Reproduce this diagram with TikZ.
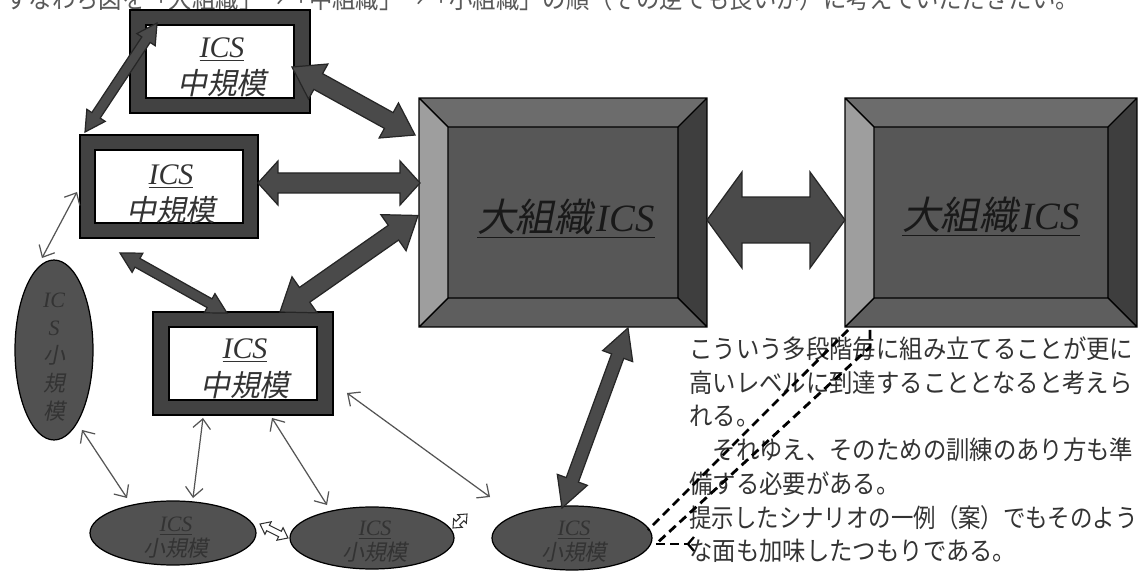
\documentclass[tikz,border=0pt]{standalone}
\usepackage{fontspec}
\setmainfont{Liberation Serif}
\newfontfamily\jp{Noto Sans CJK JP}
\newfontfamily\jpit[FakeSlant=0.2]{Noto Sans CJK JP}
\usetikzlibrary{calc,arrows.meta,shapes.geometric}
\definecolor{mgray}{HTML}{424242}
\definecolor{agray}{HTML}{4A4A4A}
\definecolor{face}{HTML}{575757}
\definecolor{btop}{HTML}{6C6C6C}
\definecolor{bleft}{HTML}{9E9E9E}
\definecolor{bright}{HTML}{3E3E3E}
\definecolor{bbot}{HTML}{5E5E5E}
\definecolor{egray}{HTML}{515151}
\definecolor{tgray}{HTML}{333333}
\definecolor{lgray}{HTML}{555555}
\newcommand\ICSu{{\rmfamily\itshape\underline{ICS}}}
\newcommand\icsit[1]{{\rmfamily\itshape #1}}
\newcommand\tall[1]{\scalebox{1}[1.1]{#1}}
\newcommand\bevel[2]{%
 \coordinate (#1a) at ([shift={(#2,#2)}]#1.north west);
 \coordinate (#1b) at ([shift={(-#2,#2)}]#1.north east);
 \coordinate (#1c) at ([shift={(-#2,-#2)}]#1.south east);
 \coordinate (#1d) at ([shift={(#2,-#2)}]#1.south west);
 \fill[face] (#1a) rectangle (#1c);
 \fill[btop] (#1.north west) -- (#1.north east) -- (#1b) -- (#1a) -- cycle;
 \fill[bleft] (#1.north west) -- (#1a) -- (#1d) -- (#1.south west) -- cycle;
 \fill[bright] (#1.north east) -- (#1.south east) -- (#1c) -- (#1b) -- cycle;
 \fill[bbot] (#1.south west) -- (#1d) -- (#1c) -- (#1.south east) -- cycle;
 \draw[bline] (#1.north west) rectangle (#1.south east) (#1a) rectangle (#1c)
   (#1.north west) -- (#1a) (#1.north east) -- (#1b) (#1.south east) -- (#1c) (#1.south west) -- (#1d);
}
% block double arrow: style, P, Q, head length, head half-width, shaft half-width
\newcommand\blockarrow[6]{%
 \draw[#1] (#2) -- ($(#2)!#4!(#3)!#5!90:(#3)$) -- ($(#2)!#4!(#3)!#6!90:(#3)$)
  -- ($(#3)!#4!(#2)!#6!-90:(#2)$) -- ($(#3)!#4!(#2)!#5!-90:(#2)$) -- (#3)
  -- ($(#3)!#4!(#2)!#5!90:(#2)$) -- ($(#3)!#4!(#2)!#6!90:(#2)$)
  -- ($(#2)!#4!(#3)!#6!-90:(#3)$) -- ($(#2)!#4!(#3)!#5!-90:(#3)$) -- cycle;
}
\begin{document}
\begin{tikzpicture}[x=0.02cm,y=-0.02cm,
  mout/.style={rectangle, draw=black, line width=0.7pt, fill=mgray, inner sep=0, outer sep=0, minimum height=2.06cm},
  minner/.style={rectangle, draw=black, line width=0.7pt, fill=white, inner sep=0, outer sep=0, minimum width=2.96cm, minimum height=1.46cm},
  itxt/.style={inner sep=0, anchor=base, text=tgray, font=\fontsize{17}{20}\selectfont},
  bigbox/.style={rectangle, inner sep=0, outer sep=0, minimum height=4.58cm},
  bline/.style={draw=black, line width=0.8pt},
  btxt/.style={inner sep=0, anchor=base, text=black!90, font=\fontsize{22}{26}\selectfont},
  ell/.style={ellipse, draw=black, line width=0.7pt, fill=egray, inner sep=0, outer sep=0},
  etxt/.style={inner sep=0, align=center, text=black!80, font=\jpit\fontsize{12.5}{14.2}\selectfont},
  barr/.style={fill=agray, draw=black!85, line width=0.7pt, line join=miter},
  tarr/.style={fill=white, draw=black!80, line width=0.6pt},
  tharr/.style={draw=lgray, line width=0.7pt, <->, >={Straight Barb[length=5.5pt,width=10pt]}},
  dline/.style={draw=black, line width=1.6pt, dash pattern=on 5pt off 3pt},
  rtxt/.style={inner sep=0, anchor=base west, text=tgray, font=\jp\fontsize{13.3}{16}\selectfont}
]
\fill[white] (0,0) rectangle (1142,580);
\useasboundingbox (0,0) rectangle (1142,580);

% top (cut) text line
\node[rtxt, text=black!65] (top) at (5,9) {\tall{すなわち図を「大組織」→「中組織」→「小組織」の順（その逆でも良いが）に考えていただきたい。}};

% medium boxes
\node[mout, minimum width=3.6cm] (A) at (220,61.5) {};
\node[minner] (Ai) at (A.center) {};
\node[itxt] (At1) at ([shift={(2,-4)}]A.center) {\ICSu};
\node[itxt] (At2) at ([shift={(2,33)}]A.center) {\jpit 中規模};

\node[mout, minimum width=3.56cm] (B) at (169,186.5) {};
\node[minner] (Bi) at (B.center) {};
\node[itxt] (Bt1) at ([shift={(2,-2)}]B.center) {\ICSu};
\node[itxt] (Bt2) at ([shift={(2,35)}]B.center) {\jpit 中規模};

\node[mout, minimum width=3.6cm] (C) at (243,363.5) {};
\node[minner] (Ci) at (C.center) {};
\node[itxt] (Ct1) at ([shift={(2,-5)}]C.center) {\ICSu};
\node[itxt] (Ct2) at ([shift={(2,33)}]C.center) {\jpit 中規模};

% big boxes
\node[bigbox, minimum width=5.76cm] (L) at (563,212.5) {};
\bevel{L}{29}
\node[btxt] (Lt) at ([shift={(3,19)}]L.center) {\underline{{\jpit 大組織}\kern2pt{\rmfamily\itshape ICS}}};
\node[bigbox, minimum width=5.84cm] (R) at (991,212.5) {};
\bevel{R}{29}
\node[btxt] (Rt) at ([shift={(0,17)}]R.center) {\underline{{\jpit 大組織}\kern2pt{\rmfamily\itshape ICS}}};

% small organisations (ellipses)
\node[ell, minimum width=1.56cm, minimum height=3.6cm] (V) at (54,350) {};
\node[etxt, font=\jpit\fontsize{12.5}{15.9}\selectfont] (Vt) at (54,357) {\icsit{IC}\\\icsit{S}\\小\\規\\模};
\node[ell, minimum width=3.32cm, minimum height=1.28cm] (E1) at (173,533) {};
\node[etxt] (E1t) at (176,538) {\icsit{\underline{ICS}}\\小規模};
\node[ell, minimum width=3.28cm, minimum height=1.24cm] (E2) at (372,538) {};
\node[etxt] (E2t) at (375,542) {\icsit{\underline{ICS}}\\小規模};
\node[ell, minimum width=3.2cm, minimum height=1.28cm] (E3) at (572,538) {};
\node[etxt] (E3t) at (574,542) {\icsit{\underline{ICS}}\\小規模};

% block arrow end points
\coordinate (a1) at ([shift={(27,13)}]A.north west);
\coordinate (a2) at ([shift={(5,-3)}]B.north west);
\coordinate (b1) at ([shift={(-18,5.5)}]A.east);
\coordinate (b2) at ([shift={(-4,37)}]L.north west);
\coordinate (c1) at ([shift={(0,-3.5)}]B.east);
\coordinate (c2) at ([shift={(1,-29.5)}]L.west);
\coordinate (d1) at ([shift={(-1,3)}]L.west);
\coordinate (d2) at ([shift={(37,0)}]C.north);
\coordinate (e1) at ([shift={(40,15)}]B.south west);
\coordinate (e2) at ([shift={(74,1)}]C.north west);
\coordinate (f1) at ([shift={(0,7.5)}]L.east);
\coordinate (f2) at ([shift={(0,7.5)}]R.west);
\coordinate (g1) at ([shift={(65,1)}]L.south);
\coordinate (g2) at ([shift={(-10,2)}]E3.north);
\coordinate (h1) at ([shift={(4,-9)}]E1.east);
\coordinate (h2) at ([shift={(-2,0)}]E2.west);
\coordinate (i1) at ([shift={(-1,-10)}]E2.east);
\coordinate (i2) at ([shift={(-25,-24)}]E3.west);

\blockarrow{barr}{a1}{a2}{0.4cm}{0.22cm}{0.1cm}
\blockarrow{barr}{b1}{b2}{0.6cm}{0.4cm}{0.18cm}
\blockarrow{barr}{c1}{c2}{0.4cm}{0.44cm}{0.2cm}
\blockarrow{barr}{d1}{d2}{0.6cm}{0.44cm}{0.18cm}
\blockarrow{barr}{e1}{e2}{0.4cm}{0.22cm}{0.1cm}
\blockarrow{barr}{f1}{f2}{0.7cm}{0.96cm}{0.46cm}
\blockarrow{barr}{g1}{g2}{0.6cm}{0.32cm}{0.13cm}
\blockarrow{tarr}{h1}{h2}{0.18cm}{0.14cm}{0.06cm}
\blockarrow{tarr}{i1}{i2}{0.14cm}{0.12cm}{0.05cm}

% thin arrows
\draw[tharr] ([shift={(-3,5.5)}]B.west) -- ([shift={(-12,-2)}]V.north);
\draw[tharr] ([shift={(28,-10)}]V.south) -- ([shift={(-46,-3)}]E1.north);
\draw[tharr] ([shift={(-40,3)}]C.south) -- ([shift={(20,-3)}]E1.north);
\draw[tharr] ([shift={(29,3)}]C.south) -- ([shift={(-45,-2)}]E2.north);
\draw[tharr] ([shift={(14,29.5)}]C.east) -- ([shift={(-2,-41)}]E3.west);

% explanatory text
\node[rtxt] (t1) at (689,358.5) {\tall{こういう多段階毎に組み立てることが更に}};
\node[rtxt] (t2) at (689,392.2) {\tall{高いレベルに到達することとなると考えら}};
\node[rtxt] (t3) at (689,425.9) {\tall{れる。}};
\node[rtxt] (t4) at (689,459.6) {\tall{　それゆえ、そのための訓練のあり方も準}};
\node[rtxt] (t5) at (689,493.3) {\tall{備する必要がある。}};
\node[rtxt] (t6) at (689,527.0) {\scalebox{0.96}[1.1]{提示したシナリオの一例（案）でもそのよう}};
\node[rtxt] (t7) at (689,560.7) {\tall{な面も加味したつもりである。}};

% dashed callout lines
\coordinate (k1) at ([shift={(3,3)}]R.south west);
\coordinate (k2) at ([shift={(25,3)}]R.south west);
\coordinate (k3) at ([shift={(25,20)}]R.south west);
\coordinate (k4) at ([shift={(-4,-8)}]E3.east);
\coordinate (k5) at ([shift={(4,6)}]E3.east);
\coordinate (k6) at ([shift={(36,6)}]E3.east);
\draw[dline] (k1) -- (k4);
\draw[dline] (k2) -- (k3) -- (k5);
\draw[dline] (k5) -- (k6);
\draw[line width=1.3pt] ([shift={(6,-7)}]k6) -- (k6) -- ([shift={(6,7)}]k6);
\end{tikzpicture}
\end{document}
